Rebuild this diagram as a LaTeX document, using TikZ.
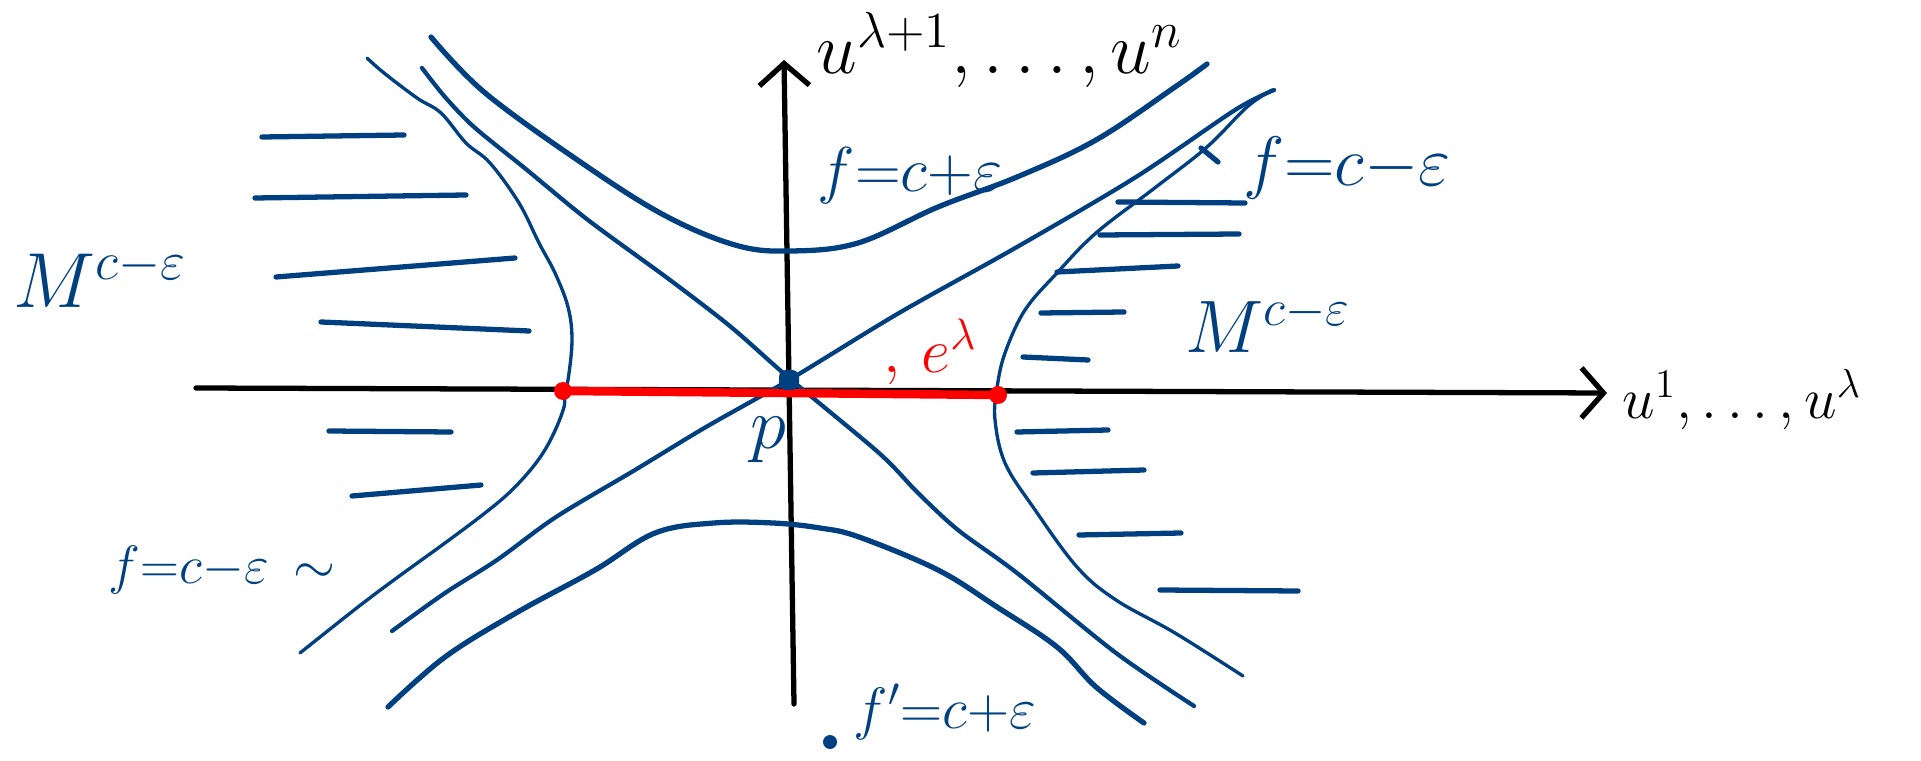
\documentclass[tikz,border=0pt]{standalone}
\usetikzlibrary{arrows.meta}
\definecolor{pen}{RGB}{0,64,128}
\definecolor{ink}{RGB}{0,0,0}
\definecolor{hot}{RGB}{255,0,0}
\begin{document}
\begin{tikzpicture}[x=0.01cm,y=-0.01cm,
  axis/.style={draw=ink, line width=1.5pt, line cap=round, -{Straight Barb[length=2.2mm,width=5mm,line width=1.5pt]}},
  thick level/.style={draw=pen, line width=1.5pt, line cap=round, line join=round},
  mid level/.style={draw=pen, line width=1.2pt, line cap=round, line join=round},
  thin level/.style={draw=pen, line width=0.95pt, line cap=round, line join=round},
  hatch/.style={draw=pen, line width=1.5pt, line cap=round},
  lbl/.style={text=pen, inner sep=0pt, font=\huge},
  blk/.style={text=ink, inner sep=0pt, font=\huge}]
\useasboundingbox (0,0) rectangle (1921,761);

% axes
\coordinate (xs) at (196,388);
\coordinate (xe) at (1607,393);
\coordinate (ys) at (794,704);
\coordinate (ye) at (784,60);
\draw[axis] (xs) -- (xe);
\draw[axis] (ys) -- (ye);

% f = c + eps, upper branch
\draw[thick level] plot[smooth, tension=0.6] coordinates {(431,37) (484,92) (576,159) (662,214) (735,245) (790,251) (858,243) (938,207) (1017,177) (1096,140) (1175,87) (1207,64)};
% f = c + eps, lower branch
\draw[thick level] plot[smooth, tension=0.6] coordinates {(388,707) (445,657) (516,613) (595,570) (655,533) (714,523) (773,523) (820,528) (859,537) (938,570) (997,607) (1057,647) (1096,687) (1144,723)};
% f = c, the two lines through p
\draw[mid level] plot[smooth, tension=0.5] coordinates {(422,68) (445,97) (474,127) (527,170) (588,220) (670,280) (731,327) (789,378) (879,453) (918,493) (958,530) (1017,573) (1116,653) (1194,706)};
\draw[mid level] plot[smooth, tension=0.5] coordinates {(392,631) (445,593) (497,560) (556,517) (635,470) (706,427) (789,380) (899,313) (1017,247) (1136,177) (1235,110) (1274,90)};
% f = c - eps, left branch
\draw[thin level] plot[smooth, tension=0.6] coordinates {(367,58) (384,73) (417,98) (441,113) (466,143) (490,163) (519,203) (539,243) (555,273) (568,307) (572,340) (568,380) (564,391) (564,407) (552,437) (536,463) (512,490) (485,513) (445,543) (398,577) (358,607) (300,653)};
% f = c - eps, right branch
\draw[thin level] plot[smooth, tension=0.6] coordinates {(1272,90) (1247,107) (1207,147) (1156,187) (1096,233) (1057,273) (1025,310) (1005,353) (997,388) (995,420) (1005,463) (1033,507) (1077,567) (1116,600) (1175,633) (1243,676)};

% hatching, left
\draw[hatch] (262,137) -- (404,135);
\draw[hatch] (255,198) -- (466,195);
\draw[hatch] (276,277) -- (515,258);
\draw[hatch] (321,322) -- (529,331);
\draw[hatch] (329,431) -- (451,432);
\draw[hatch] (352,496) -- (481,485);
% hatching, right
\draw[hatch] (1118,202) -- (1245,203);
\draw[hatch] (1100,235) -- (1239,234);
\draw[hatch] (1057,272) -- (1178,266);
\draw[hatch] (1041,313) -- (1124,312);
\draw[hatch] (1023,357) -- (1088,360);
\draw[hatch] (1017,432) -- (1108,430);
\draw[hatch] (1033,473) -- (1144,470);
\draw[hatch] (1079,535) -- (1181,533);
\draw[hatch] (1160,590) -- (1298,591);
% small stroke beside the right label
\draw[hatch] (1201,148) -- (1218,162);

% red segment
\coordinate (ra) at (563,391);
\coordinate (rb) at (998,395);
\draw[hot, line width=2.4pt, line cap=round] (ra) -- (rb);
\fill[hot] (ra) circle (9);
\fill[hot] (rb) circle (9);

% point p
\node[fill=pen, minimum size=0.2cm, inner sep=0pt, rounded corners=2pt] (p) at (789,380) {};
\fill[pen] (830,742) circle (7);

% labels
\node[blk, scale=1.0] (ltop) at (1000,50) {$u^{\lambda+1},\dots,u^{n}$};
\node[blk, scale=0.8] (lright) at (1742,400) {$u^{1},\dots,u^{\lambda}$};
\node[lbl, scale=1.07] (ml) at (100,278) {$M^{c-\varepsilon}$};
\node[lbl, scale=1.02] (mr) at (1268,324) {$M^{c-\varepsilon}$};
\node[lbl, scale=0.87] (fa) at (910,176) {$f{=}c{+}\varepsilon$};
\node[lbl, scale=0.96] (fb) at (1347,168) {$f{=}c{-}\varepsilon$};
\node[lbl, scale=0.74] (fc) at (222,570) {$f{=}c{-}\varepsilon\,\sim$};
\node[lbl, scale=0.8] (fd) at (945,712) {$f'{=}c{+}\varepsilon$};
\node[lbl] (lp) at (768,440) {$p$};
\node[text=hot, inner sep=0pt, font=\huge, scale=0.87] (le) at (930,352) {$,\,e^{\lambda}$};
\end{tikzpicture}
\end{document}
